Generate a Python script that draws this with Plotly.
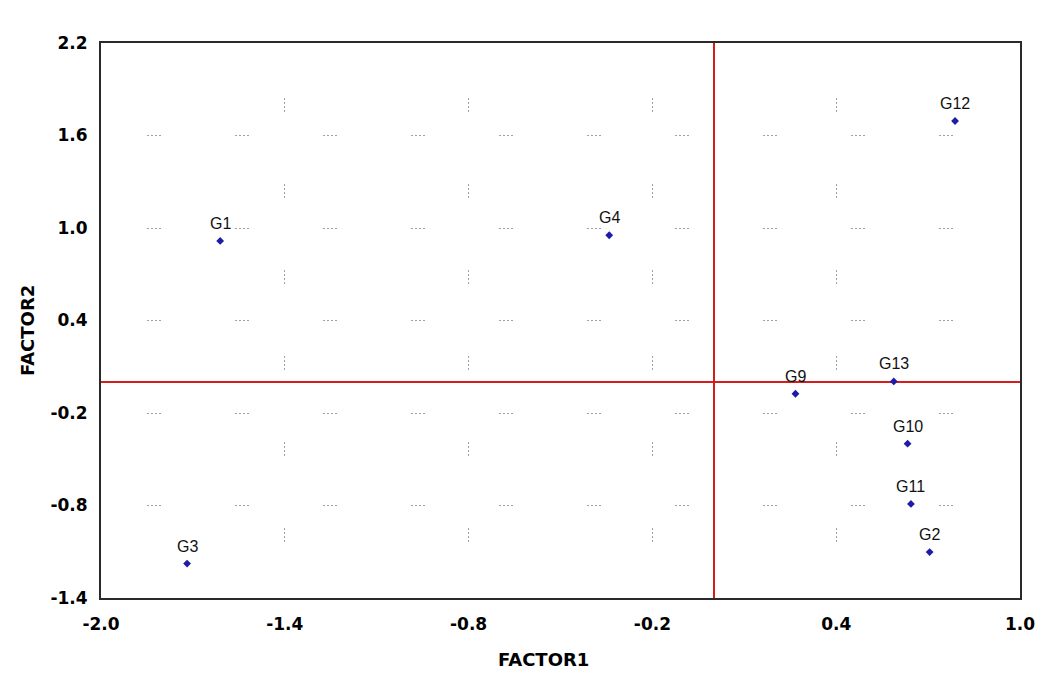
import plotly.graph_objects as go

# ---- data ----
labels = ["G1", "G2", "G3", "G4", "G9", "G10", "G11", "G12", "G13"]
factor1 = [-1.611, 0.705, -1.719, -0.341, 0.267, 0.633, 0.644, 0.788, 0.588]
factor2 = [0.916, -1.102, -1.177, 0.953, -0.075, -0.399, -0.790, 1.694, 0.005]

x_ticks = [-2.0, -1.4, -0.8, -0.2, 0.4, 1.0]
x_tick_text = ["-2.0", "-1.4", "-0.8", "-0.2", "0.4", "1.0"]
y_ticks = [-1.4, -0.8, -0.2, 0.4, 1.0, 1.6, 2.2]
y_tick_text = ["-1.4", "-0.8", "-0.2", "0.4", "1.0", "1.6", "2.2"]

x_title = "FACTOR1"
y_title = "FACTOR2"

# ---- figure ----
fig = go.Figure()
fig.add_trace(go.Scatter(
    x=factor1, y=factor2, mode="markers",
    marker=dict(symbol="diamond", size=6, color="#1c1ca8", line=dict(width=0)),
    hoverinfo="text", text=labels, showlegend=False,
))

annotations = []
for lab, xv, yv in zip(labels, factor1, factor2):
    annotations.append(dict(
        x=xv, y=yv, xref="x", yref="y", text=lab, showarrow=False,
        yanchor="bottom", xanchor="center", yshift=7,
        font=dict(family="Liberation Sans, Arial", size=16, color="#111111"),
    ))

annotations.append(dict(
    x=0.482, y=-0.1117, xref="paper", yref="paper", text=x_title,
    showarrow=False, xanchor="center", yanchor="middle",
    font=dict(family="DejaVu Sans", size=18, color="#000000", weight="bold"),
))
annotations.append(dict(
    x=-0.0805, y=0.481, xref="paper", yref="paper", text=y_title,
    showarrow=False, xanchor="center", yanchor="middle", textangle=-90,
    font=dict(family="DejaVu Sans", size=18, color="#000000", weight="bold"),
))

tick_font = dict(family="DejaVu Sans", size=17, color="#000000", weight="bold")

fig.update_layout(
    width=1039, height=667,
    margin=dict(l=93, r=27, t=35, b=77),
    paper_bgcolor="white", plot_bgcolor="white",
    annotations=annotations,
    xaxis=dict(
        range=[-2.0, 1.0], tickvals=x_ticks, ticktext=x_tick_text,
        tickfont=tick_font, ticks="", ticklabelstandoff=10,
        showline=True, mirror=True, linecolor="#2a2a2a", linewidth=2,
        showgrid=True, gridcolor="#a0a0a0", gridwidth=1,
        griddash="0px,55px,2px,2px,2px,2px,2px,2px,2px,17px",
        zeroline=True, zerolinecolor="#d41e1e", zerolinewidth=2,
        fixedrange=True,
    ),
    yaxis=dict(
        range=[-1.4, 2.2], tickvals=y_ticks, ticktext=y_tick_text,
        tickfont=tick_font, ticks="", ticklabelstandoff=8,
        showline=True, mirror=True, linecolor="#2a2a2a", linewidth=2,
        showgrid=True, gridcolor="#a0a0a0", gridwidth=1,
        griddash="0px,46px,2px,2px,2px,2px,2px,2px,2px,28px",
        zeroline=True, zerolinecolor="#d41e1e", zerolinewidth=2,
        fixedrange=True,
    ),
)

fig.write_html("out.html")
